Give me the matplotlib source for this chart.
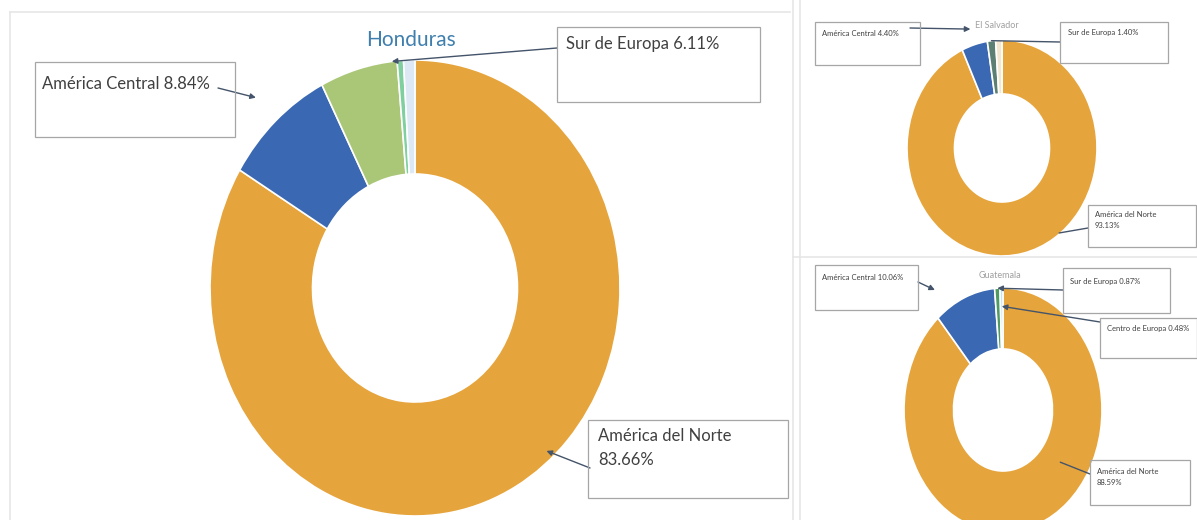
import matplotlib.pyplot as plt
from matplotlib.patches import Rectangle
import numpy as np

W, H = 1197, 520

# Honduras
hn_labels = ["América del Norte", "América Central", "Sur de Europa", "Otros 1", "Otros 2"]
hn_values = [83.66, 8.84, 6.11, 0.50, 0.89]
hn_colors = ["#e6a43c", "#3a68b2", "#a9c777", "#7fcf9f", "#dce8f3"]

# El Salvador
sv_labels = ["América del Norte", "América Central", "Sur de Europa", "Otros"]
sv_values = [93.13, 4.40, 1.40, 1.07]
sv_colors = ["#e6a43c", "#3a68b2", "#5c7f73", "#f3e6cf"]

# Guatemala
gt_labels = ["América del Norte", "América Central", "Sur de Europa", "Centro de Europa"]
gt_values = [88.59, 10.06, 0.87, 0.48]
gt_colors = ["#e6a43c", "#3a68b2", "#4e9a62", "#bfe6ef"]

plt.rcParams['font.family'] = ['Lato', 'DejaVu Sans']

fig = plt.figure(figsize=(W / 100, H / 100), dpi=100)
fig.patch.set_facecolor("white")


def fx(x):
    return x / W


def fy(y):
    return 1 - y / H


def donut(cx, cy, rx, ry, values, colors):
    ax = fig.add_axes([fx(cx - rx), fy(cy + ry), 2 * rx / W, 2 * ry / H])
    wedges, _ = ax.pie(values, colors=colors, startangle=90, counterclock=False,
                       wedgeprops=dict(width=0.5, edgecolor="white", linewidth=1.2))
    ax.set_aspect("auto")
    ax.set_xlim(-1, 1)
    ax.set_ylim(-1, 1)
    ax.axis("off")
    for w in wedges:
        w.set_clip_on(False)
    return ax, wedges


def callout(ax, wedge, text, box, txy, start, r, size, shift=0, arrow=True):
    bx, by, bw, bh = box
    fig.add_artist(Rectangle((fx(bx), fy(by + bh)), bw / W, bh / H,
                             transform=fig.transFigure, fill=False,
                             edgecolor="#a6a6a6", linewidth=0.9))
    fig.text(fx(txy[0]), fy(txy[1]), text, fontsize=size, color="#404040",
             va="top", ha="left", linespacing=1.6)
    ang = np.deg2rad((wedge.theta1 + wedge.theta2) / 2 + shift)
    ax.annotate("", xy=(r * np.cos(ang), r * np.sin(ang)), xycoords="data",
                xytext=(fx(start[0]), fy(start[1])), textcoords="figure fraction",
                arrowprops=dict(arrowstyle="-|>" if arrow else "-", color="#44546a",
                                lw=1.0, mutation_scale=8, shrinkA=0, shrinkB=0),
                annotation_clip=False)


# faint panel borders
for x0, y0, x1, y1 in [(10, 12, 790, 12), (10, 12, 10, 520), (793, 0, 793, 520),
                       (800, 0, 800, 520), (793, 257, 1197, 257)]:
    fig.add_artist(plt.Line2D([fx(x0), fx(x1)], [fy(y0), fy(y1)], color="#e6e6e6", lw=1.2))

# main donut
ax1, w1 = donut(415, 288, 205, 228, hn_values, hn_colors)
fig.text(fx(411), fy(40), "Honduras", fontsize=15, color="#3f7fae", ha="center", va="center")
callout(ax1, w1[1], "América Central 8.84%", (35, 62, 200, 75), (42, 76), (218, 88), 1.14, 12)
callout(ax1, w1[2], "Sur de Europa 6.11%", (557, 27, 203, 75), (566, 36), (557, 48), 1.0, 12, shift=-9.5)
callout(ax1, w1[0], "América del Norte\n83.66%", (588, 420, 200, 78), (598, 428), (590, 468), 0.96, 12,
        shift=12.5)

# El Salvador
ax2, w2 = donut(1002, 148, 95, 108, sv_values, sv_colors)
fig.text(fx(997), fy(25), "El Salvador", fontsize=6.5, color="#a0a0a0", ha="center", va="center")
callout(ax2, w2[1], "América Central 4.40%", (815, 22, 105, 43), (822, 30), (910, 28), 1.15, 5.5)
callout(ax2, w2[2], "Sur de Europa 1.40%", (1060, 22, 108, 41), (1068, 29), (1060, 42), 1.0, 5.5, arrow=False)
callout(ax2, w2[0], "América del Norte\n93.13%", (1088, 205, 108, 42), (1095, 211), (1088, 228), 0.99, 5.5,
        shift=25, arrow=False)

# Guatemala
ax3, w3 = donut(1003, 410, 99, 122, gt_values, gt_colors)
fig.text(fx(1000), fy(275), "Guatemala", fontsize=6.5, color="#a0a0a0", ha="center", va="center")
callout(ax3, w3[1], "América Central 10.06%", (815, 265, 103, 45), (822, 274), (918, 282), 1.2, 5.5, shift=12)
callout(ax3, w3[2], "Sur de Europa 0.87%", (1063, 268, 107, 45), (1070, 278), (1063, 290), 1.0, 5.5)
callout(ax3, w3[3], "Centro de Europa 0.48%", (1100, 318, 97, 40), (1107, 325), (1100, 322), 0.85, 5.5)
callout(ax3, w3[0], "América del Norte\n88.59%", (1090, 460, 100, 45), (1097, 468), (1090, 474), 0.72, 5.5,
        shift=33, arrow=False)

fig.savefig("out.png", dpi=100, facecolor="white")
